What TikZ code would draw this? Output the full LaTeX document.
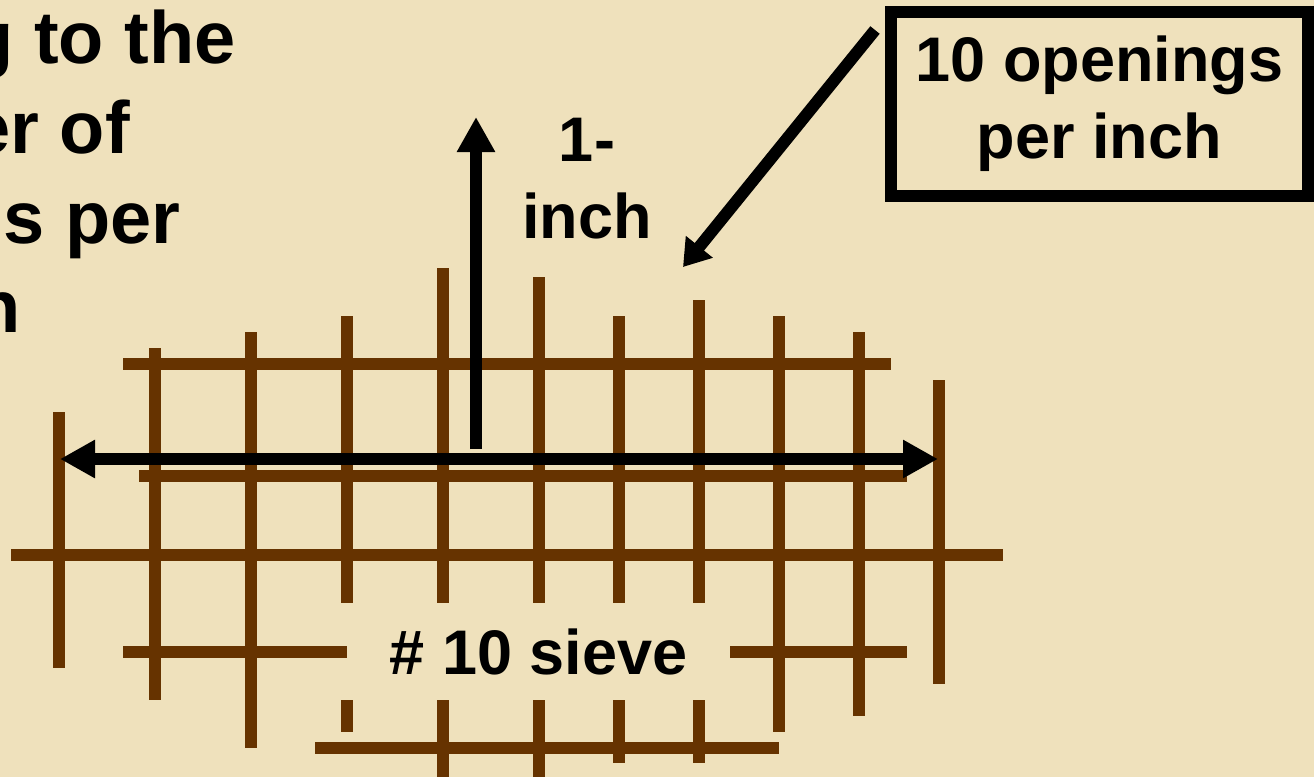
\documentclass[tikz,border=0pt]{standalone}
\usepackage{fontspec}
\setmainfont{Liberation Sans}
\usetikzlibrary{arrows.meta}
\definecolor{parch}{RGB}{239,225,188}
\definecolor{wirebrown}{RGB}{102,51,0}
\tikzset{
  wire/.style={draw=wirebrown, line width=12pt},
  blackarrow/.style={draw=black, line width=12pt},
  bigtip/.style={-{Triangle[length=35pt,width=36pt]}},
  lbl/.style={inner sep=0pt, font=\fontsize{63}{77}\selectfont\bfseries, align=center},
  sidetext/.style={inner sep=0pt, anchor=base east, font=\fontsize{74}{89}\selectfont\bfseries},
}
\begin{document}
\begin{tikzpicture}[x=1pt,y=-1pt]
\useasboundingbox (0,0) rectangle (1314,777);
\fill[parch] (0,0) rectangle (1314,777);
\clip (0,0) rectangle (1314,777);

% left text (cut by the picture's edge, as in the reference)
\node[sidetext] (t1) at (236,63) {g to the};
\node[sidetext] (t2) at (130,153) {er of};
\node[sidetext] (t3) at (181,243) {s per};
\node[sidetext] (t4) at (21,332) {n};

% sieve wires: vertical
\draw[wire] (59,412) -- (59,668);
\draw[wire] (155,348) -- (155,700);
\draw[wire] (251,332) -- (251,748);
\draw[wire] (347,316) -- (347,603);
\draw[wire] (347,700) -- (347,732);
\draw[wire] (443,268) -- (443,777);
\draw[wire] (539,277) -- (539,777);
\draw[wire] (619,316) -- (619,763);
\draw[wire] (699,300) -- (699,763);
\draw[wire] (779,316) -- (779,732);
\draw[wire] (859,332) -- (859,716);
\draw[wire] (939,380) -- (939,684);
% sieve wires: horizontal
\draw[wire] (123,364) -- (891,364);
\draw[wire] (139,476) -- (907,476);
\draw[wire] (11,555) -- (1003,555);
\draw[wire] (123,652) -- (907,652);
\draw[wire] (315,748) -- (779,748);

% label over the sieve
\node[lbl, fill=parch, minimum width=383pt, minimum height=97pt] (sieve) at (538.5,651.5) {\# 10 sieve};

% 1-inch label
\node[lbl] (inch) at (587,179) {1-\\inch};

% box label
\node[lbl, draw=black, line width=12pt, minimum width=417pt, minimum height=184pt] (openings) at (1099.5,104) {10 openings\\per inch};

% arrows
\coordinate (hl) at (60,459);
\coordinate (hr) at (938,459);
\coordinate (vb) at (476,449);
\coordinate (vt) at (476,117);
\coordinate (ds) at (875,30);
\coordinate (de) at (683,267);
\draw[blackarrow, {Triangle[length=35pt,width=36pt]}-{Triangle[length=35pt,width=36pt]}] (hl) -- (hr);
\draw[blackarrow, bigtip] (vb) -- (vt);
\draw[blackarrow, -{Triangle[length=26pt,width=33pt]}] (ds) -- (de);
\end{tikzpicture}
\end{document}
